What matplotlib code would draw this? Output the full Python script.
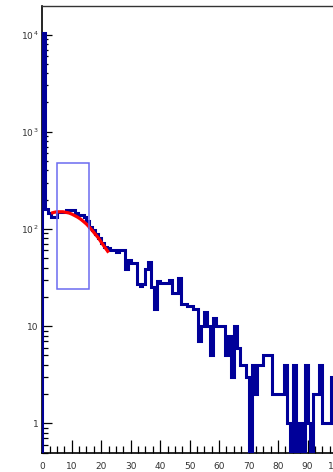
import matplotlib
matplotlib.use("Agg")
import matplotlib.pyplot as plt
import numpy as np
from matplotlib.ticker import MultipleLocator, FixedLocator, FixedFormatter, LogLocator, NullFormatter


# counts per unit-wide bin, starting at 0
counts = [10300, 160, 147, 133, 133, 150, 150, 150, 156, 156,
          156, 146, 139, 139, 133, 120, 104, 97, 88, 80,
          72, 65, 63, 60, 60, 58, 60, 60, 39, 48,
          45, 45, 27, 26, 27, 39, 46, 25, 15, 29,
          28, 28, 28, 30, 22, 22, 31, 17, 17, 16,
          16, 15, 15, 7, 10, 14, 10, 5, 12, 10,
          10, 10, 5, 8, 3, 10, 6, 4, 4, 3,
          0, 4, 2, 4, 4, 5, 5, 5, 2, 2,
          2, 2, 4, 1, 0, 4, 0, 1, 0, 4,
          1, 0, 2, 2, 4, 1, 1, 1, 3, 2]

# fitted curve over the selected region
fit_x = [3, 4, 5, 6, 7, 8, 9, 10, 11, 12, 13, 14, 15, 16, 17, 18, 19, 20, 21, 22, 22.5]
fit_y = [145, 148, 150, 150, 150, 148, 146, 142, 137, 132, 126, 119, 112, 104, 96, 88, 81, 73, 66, 60, 57]

# selection box (x range, y range)
box_x = [5, 16]
box_y = [24, 480]

x_range = [0, 100]
y_range = [0.491, 19650]
y_ticks = [1, 10, 100, 1000, 10000]
y_ticklabels = ['1', '10', r'$10^{\,2}$', r'$10^{\,3}$', r'$10^{\,4}$']


def make_graph(output_path):
    fig = plt.figure(figsize=(3.33, 4.72), dpi=100)
    ax = fig.add_axes([0.127, 0.0396, 0.885, 0.9477])

    edges = np.arange(x_range[0], x_range[0] + len(counts) + 1)
    ax.set_yscale('log', nonpositive='clip')
    ax.stairs(counts, edges, color='#000099', linewidth=2.2, zorder=3)
    ax.plot(fit_x, fit_y, color='#ff0000', linewidth=2.3, solid_capstyle='butt', zorder=4)

    ax.add_patch(plt.Rectangle((box_x[0], box_y[0]), box_x[1] - box_x[0], box_y[1] - box_y[0],
                               fill=False, edgecolor='#6b6bf0', linewidth=1.1, zorder=5))

    ax.set_xlim(x_range)
    ax.set_ylim(y_range)

    ax.xaxis.set_major_locator(MultipleLocator(10))
    ax.xaxis.set_minor_locator(MultipleLocator(2.5))
    ax.yaxis.set_major_locator(FixedLocator(y_ticks))
    ax.yaxis.set_major_formatter(FixedFormatter(y_ticklabels))
    ax.yaxis.set_minor_locator(LogLocator(base=10, subs=np.arange(2, 10)))
    ax.yaxis.set_minor_formatter(NullFormatter())

    ax.tick_params(axis='x', which='major', direction='in', length=9.5, width=0.9, pad=6.5,
                   labelsize=6.5, labelcolor='#333333')
    ax.tick_params(axis='x', which='minor', direction='in', length=5, width=0.9)
    ax.tick_params(axis='y', which='major', direction='in', length=7.2, width=0.9, pad=2.5,
                   labelsize=6.5, labelcolor='#333333')
    ax.tick_params(axis='y', which='minor', direction='in', length=4.3, width=0.9)

    for side in ['left', 'bottom']:
        ax.spines[side].set_linewidth(1.2)
    ax.spines['top'].set_linewidth(1.0)
    ax.spines['top'].set_color('#333333')
    ax.spines['right'].set_linewidth(1.0)

    plt.savefig(output_path, dpi=100)


def main():
    make_graph('out.png')


if __name__ == '__main__':
    main()
